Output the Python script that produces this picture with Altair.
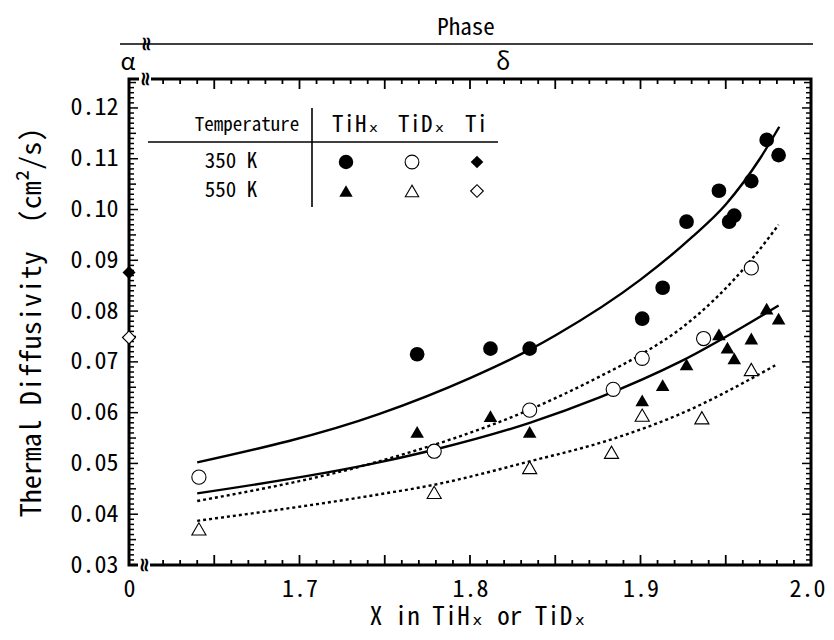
import altair as alt
import pandas as pd

FONT = "Noto Sans Mono CJK JP, DejaVu Sans Mono, monospace"

# ---------------- data ----------------
tih350_x = [1.769, 1.812, 1.835, 1.901, 1.913, 1.927, 1.946, 1.952, 1.955, 1.965, 1.974, 1.981]
tih350_y = [0.0715, 0.0726, 0.0726, 0.0785, 0.0846, 0.0976, 0.1037, 0.0976, 0.0988, 0.1056, 0.1137, 0.1107]
tid350_x = [1.641, 1.779, 1.835, 1.884, 1.901, 1.937, 1.965]
tid350_y = [0.0473, 0.0524, 0.0605, 0.0646, 0.0707, 0.0746, 0.0885]
tih550_x = [1.769, 1.812, 1.835, 1.901, 1.913, 1.927, 1.946, 1.951, 1.955, 1.965, 1.974, 1.981]
tih550_y = [0.0562, 0.0593, 0.0562, 0.0624, 0.0654, 0.0695, 0.0754, 0.0728, 0.0707, 0.0746, 0.0805, 0.0785]
tid550_x = [1.641, 1.779, 1.835, 1.883, 1.901, 1.936, 1.965]
tid550_y = [0.0371, 0.0443, 0.0492, 0.0522, 0.0595, 0.0590, 0.0685]
ti350_x = [0.0]
ti350_y = [0.0876]
ti550_x = [0.0]
ti550_y = [0.0748]

fit_tih350_x = [1.64, 1.7465, 1.80, 1.835, 1.85, 1.90, 1.93, 1.95, 1.97, 1.9814]
fit_tih350_y = [0.0502, 0.0597, 0.0668, 0.0724, 0.0752, 0.0862, 0.0945, 0.1010, 0.1100, 0.1163]
fit_tid350_x = [1.64, 1.7465, 1.835, 1.876, 1.901, 1.923, 1.965, 1.981]
fit_tid350_y = [0.0426, 0.0504, 0.0606, 0.0671, 0.0716, 0.0764, 0.0901, 0.0970]
fit_tih550_x = [1.64, 1.7465, 1.779, 1.835, 1.876, 1.923, 1.981]
fit_tih550_y = [0.0441, 0.0502, 0.0527, 0.0580, 0.0630, 0.0700, 0.0811]
fit_tid550_x = [1.64, 1.7465, 1.779, 1.835, 1.8835, 1.923, 1.979]
fit_tid550_y = [0.0387, 0.0439, 0.0458, 0.0504, 0.0548, 0.0597, 0.0693]

x_tick_values = [1.6, 1.7, 1.8, 1.9, 2.0]
y_tick_values = [0.03, 0.04, 0.05, 0.06, 0.07, 0.08, 0.09, 0.10, 0.11, 0.12]
x_minor_ticks = [i / 100 for i in range(162, 200)]
y_minor_ticks = [i / 1000 for i in range(31, 126)]

# ---------------- layout ----------------
W, H = 682, 486
xs = alt.Scale(domain=[1.6, 2.0], nice=False, zero=False)
ys = alt.Scale(domain=[0.03, 0.1257], nice=False, zero=False)

AX_X = alt.Axis(
    values=x_tick_values,
    labelExpr="datum.value < 1.65 ? '0' : format(datum.value, '.1f')",
    labelOffset={"expr": "datum.value > 1.99 ? -4 : 0"},
    ticks=False, tickSize=0, domain=False, grid=False,
    labelFont=FONT, labelFontSize=24, labelPadding=12, labelFlush=False,
    labelOverlap=False, labelColor="black",
    title="X in TiHₓ or TiDₓ", titleFont=FONT, titleFontSize=25,
    titleFontWeight="normal", titlePadding=3, titleColor="black",
    titleX=349, titleAlign="center",
)
AX_Y = alt.Axis(
    values=y_tick_values, format=".2f",
    ticks=False, tickSize=0, domain=False, grid=False,
    labelFont=FONT, labelFontSize=24, labelPadding=11, labelColor="black",
    title="Thermal Diffusivity \u00a0(cm²/s)", titleFont=FONT, titleFontSize=28,
    titleFontWeight="normal", titlePadding=24, titleColor="black",
)


def X(field):
    return alt.X(field, scale=xs, axis=AX_X)


def Y(field):
    return alt.Y(field, scale=ys, axis=AX_Y)


def points(xv, yv, shape, filled, size):
    df = pd.DataFrame({"x": xv, "y": yv})
    return (
        alt.Chart(df)
        .transform_calculate(xp="datum.x == 0 ? 1.6 : datum.x")
        .mark_point(
            shape=shape, filled=True, fill="black" if filled else "white",
            stroke="black", strokeWidth=0 if filled else 1.1, size=size, opacity=1,
        )
        .encode(x=X("xp:Q"), y=Y("y:Q"))
    )


def curve(xv, yv, dotted):
    df = pd.DataFrame({"x": xv, "y": yv})
    kw = dict(color="black", strokeWidth=2.4, interpolate="monotone")
    if dotted:
        kw["strokeDash"] = [3, 3]
    return alt.Chart(df).mark_line(**kw).encode(x=X("x:Q"), y=Y("y:Q"))


# inward ticks
xt = pd.DataFrame({"t": x_minor_ticks})
xt["long"] = [round(v * 100) % 5 == 0 for v in x_minor_ticks]
yt = pd.DataFrame({"t": y_minor_ticks})
yt["kind"] = [2 if round(v * 1000) % 10 == 0 else (1 if round(v * 1000) % 5 == 0 else 0) for v in y_minor_ticks]


def xticks(long, at_top):
    d = xt[xt["long"] == long]
    ln = 10 if long else 5
    y0 = 0 if at_top else H
    y1 = ln if at_top else H - ln
    return alt.Chart(d).mark_rule(color="black", strokeWidth=1.8).encode(
        x=X("t:Q"), y=alt.value(y0), y2=alt.value(y1)
    )


def yticks(kind, at_right):
    d = yt[yt["kind"] == kind]
    ln = {0: 5, 1: 7, 2: 9}[kind]
    x0 = W if at_right else 0
    x1 = W - ln if at_right else ln
    return alt.Chart(d).mark_rule(color="black", strokeWidth=1.5).encode(
        y=Y("t:Q"), x=alt.value(x0), x2=alt.value(x1)
    )


tick_layers = []
for lg in (True, False):
    for top in (True, False):
        tick_layers.append(xticks(lg, top))
for k in (0, 1, 2):
    for r in (True, False):
        tick_layers.append(yticks(k, r))

one = pd.DataFrame({"a": [0]})


def text(s, x, y, size, align="center", font=FONT, angle=0, weight="normal"):
    return alt.Chart(one).mark_text(
        text=s, font=font, fontSize=size, align=align, baseline="middle",
        color="black", angle=angle, fontWeight=weight,
    ).encode(x=alt.value(x), y=alt.value(y))


def hrule(x0, x1, y, w=1.5):
    return alt.Chart(one).mark_rule(color="black", strokeWidth=w).encode(
        x=alt.value(x0), x2=alt.value(x1), y=alt.value(y)
    )


def white_box(x0, x1, y0, y1):
    return alt.Chart(one).mark_rect(color="white").encode(
        x=alt.value(x0), x2=alt.value(x1), y=alt.value(y0), y2=alt.value(y1)
    )


frame = alt.Chart(one).mark_rect(fill=None, stroke="black", strokeWidth=3).encode(
    x=alt.value(0), x2=alt.value(W), y=alt.value(0), y2=alt.value(H)
)

# axis breaks
breaks = []
for yy, bx in ((H, 15), (0, 16), (-35, 17)):
    breaks.append(white_box(bx - 6, bx + 6, yy - 4, yy + 4))
    breaks.append(text("≈", bx, yy, 20, font="DejaVu Sans", angle=90, weight="bold"))

phase = [
    hrule(-9, 684, -35, 1.6),
    text("Phase", 337, -51, 23),
    text("α", -1, -16, 24),
    text("δ", 374, -16, 24),
]


def sym(x, y, shape, filled, size):
    return alt.Chart(one).mark_point(
        shape=shape, filled=True, fill="black" if filled else "white",
        stroke="black", strokeWidth=0 if filled else 1.1, size=size, opacity=1,
    ).encode(x=alt.value(x), y=alt.value(y))


legend = [
    text("Temperature", 118, 46, 19),
    text("TiHₓ", 203, 46, 23, align="left"),
    text("TiDₓ", 269, 46, 23, align="left"),
    text("Ti", 336, 46, 23, align="left"),
    text("350 K", 102, 83, 21),
    text("550 K", 102, 112, 21),
    hrule(19, 369, 63, 1.6),
    alt.Chart(one).mark_rule(color="black", strokeWidth=1.6).encode(
        x=alt.value(183), y=alt.value(29), y2=alt.value(128)
    ),
    sym(217, 83, "circle", True, 210),
    sym(283, 83, "circle", False, 190),
    sym(348, 83, "diamond", True, 160),
    sym(217, 112, "triangle-up", True, 180),
    sym(283, 112, "triangle-up", False, 180),
    sym(348, 112, "diamond", False, 160),
]

curves = [
    curve(fit_tih350_x, fit_tih350_y, False),
    curve(fit_tid350_x, fit_tid350_y, True),
    curve(fit_tih550_x, fit_tih550_y, False),
    curve(fit_tid550_x, fit_tid550_y, True),
]

pts = [
    points(tih350_x, tih350_y, "circle", True, 215),
    points(tid350_x, tid350_y, "circle", False, 200),
    points(tih550_x, tih550_y, "triangle-up", True, 185),
    points(tid550_x, tid550_y, "triangle-up", False, 200),
]

ti_pts = [
    points(ti350_x, ti350_y, "diamond", True, 170),
    points(ti550_x, ti550_y, "diamond", False, 170),
]

chart = alt.layer(
    *curves, *pts, *tick_layers, frame, *breaks, *phase, *legend, *ti_pts
).properties(
    width=W, height=H,
    padding={"left": 121, "top": 71, "right": 15, "bottom": 67},
    autosize=alt.AutoSizeParams(type="none"),
).configure_view(stroke=None)

chart.save("out.html", embed_options={"renderer": "svg", "actions": False})
